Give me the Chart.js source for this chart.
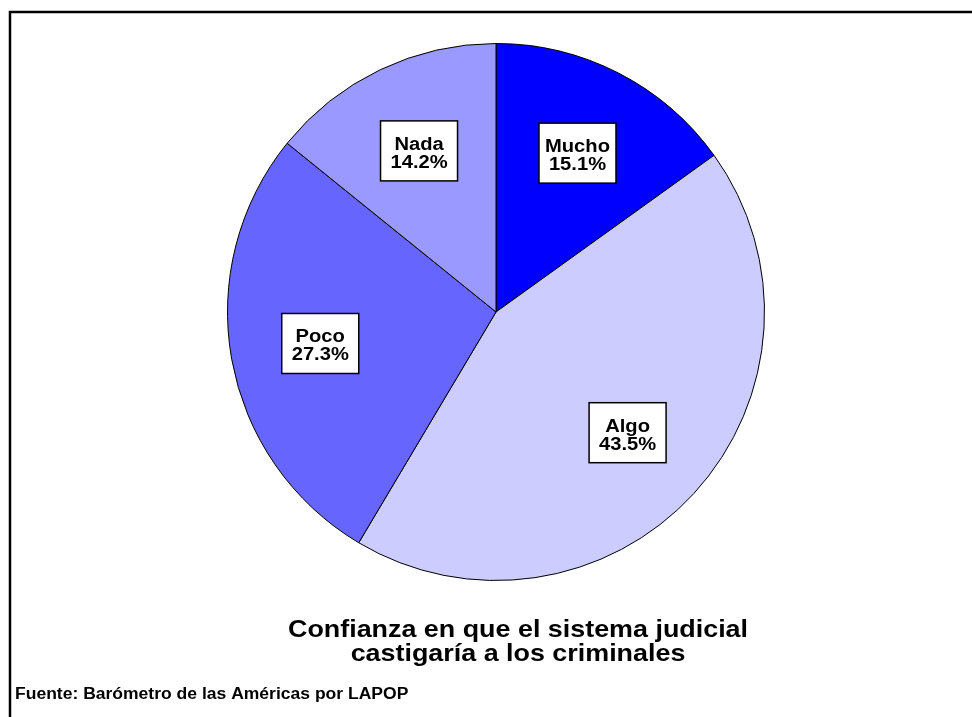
<!DOCTYPE html>
<html>
<head>
<meta charset="utf-8">
<title>Confianza en el sistema judicial</title>
<script src="https://cdn.jsdelivr.net/npm/chart.js@4"></script>
<style>
  html, body { margin: 0; padding: 0; background: #fff; }
  #wrap { position: relative; width: 972px; height: 717px; }
</style>
</head>
<body>
<div id="wrap"><canvas id="pie" width="972" height="717"></canvas></div>
<script>
const categories = ["Mucho", "Algo", "Poco", "Nada"];
const percents = [15.1, 43.5, 27.3, 14.2];
const colors = ["#0000FF", "#CCCCFF", "#6666FF", "#9999FF"];
const titleLines = ["Confianza en que el sistema judicial", "castigaría a los criminales"];
const sourceText = "Fuente: Barómetro de las Américas por LAPOP";

const FONT = "'Liberation Sans', Arial, sans-serif";

// el texto original sale algo ensanchado
function wideText(c, txt, x, y, align, stretch) {
  c.save();
  c.translate(x, y);
  c.scale(stretch, 1);
  c.textAlign = align;
  c.fillText(txt, 0, 0);
  c.restore();
}

// marco, titulo y fuente
const decoPlugin = {
  id: "deco",
  beforeDraw(chart) {
    const c = chart.ctx;
    c.save();
    c.fillStyle = "#fff";
    c.fillRect(0, 0, chart.width, chart.height);
    c.strokeStyle = "#000";
    c.lineWidth = 2.5;
    c.beginPath();
    c.moveTo(10, chart.height);
    c.lineTo(10, 12);
    c.lineTo(chart.width, 12);
    c.stroke();
    c.restore();
  },
  afterDraw(chart) {
    const c = chart.ctx;
    c.save();
    c.fillStyle = "#000";
    c.textBaseline = "alphabetic";
    c.font = "bold 24px " + FONT;
    wideText(c, titleLines[0], 518, 637, "center", 1.12);
    wideText(c, titleLines[1], 518, 661, "center", 1.12);
    c.font = "bold 16px " + FONT;
    wideText(c, sourceText, 15, 699, "left", 1.095);
    c.restore();
  }
};

// etiquetas en cajas blancas
const boxLabels = {
  id: "boxLabels",
  afterDatasetsDraw(chart) {
    const c = chart.ctx;
    const meta = chart.getDatasetMeta(0);
    c.save();
    c.font = "bold 18px " + FONT;
    meta.data.forEach((arc, i) => {
      const p = arc.getProps(["x", "y", "startAngle", "endAngle", "outerRadius"], true);
      const mid = (p.startAngle + p.endAngle) / 2;
      const r = p.outerRadius * 0.665;
      const cx = p.x + Math.cos(mid) * r;
      const cy = p.y + Math.sin(mid) * r;
      const w = 77, h = 60;
      c.fillStyle = "#fff";
      c.fillRect(cx - w / 2, cy - h / 2, w, h);
      c.strokeStyle = "#000";
      c.lineWidth = 1.5;
      c.strokeRect(cx - w / 2, cy - h / 2, w, h);
      c.fillStyle = "#000";
      c.textBaseline = "alphabetic";
      wideText(c, categories[i], cx, cy - 1, "center", 1.12);
      wideText(c, percents[i].toFixed(1) + "%", cx, cy + 17, "center", 1.12);
    });
    c.restore();
  }
};

new Chart(document.getElementById("pie").getContext("2d"), {
  type: "pie",
  data: {
    labels: categories,
    datasets: [{
      data: percents,
      backgroundColor: colors,
      borderColor: "#000",
      borderWidth: 1
    }]
  },
  options: {
    responsive: false,
    animation: false,
    layout: { padding: { top: 43, bottom: 136, left: 227, right: 207 } },
    plugins: {
      legend: { display: false },
      tooltip: { enabled: false }
    }
  },
  plugins: [decoPlugin, boxLabels]
});
</script>
</body>
</html>
